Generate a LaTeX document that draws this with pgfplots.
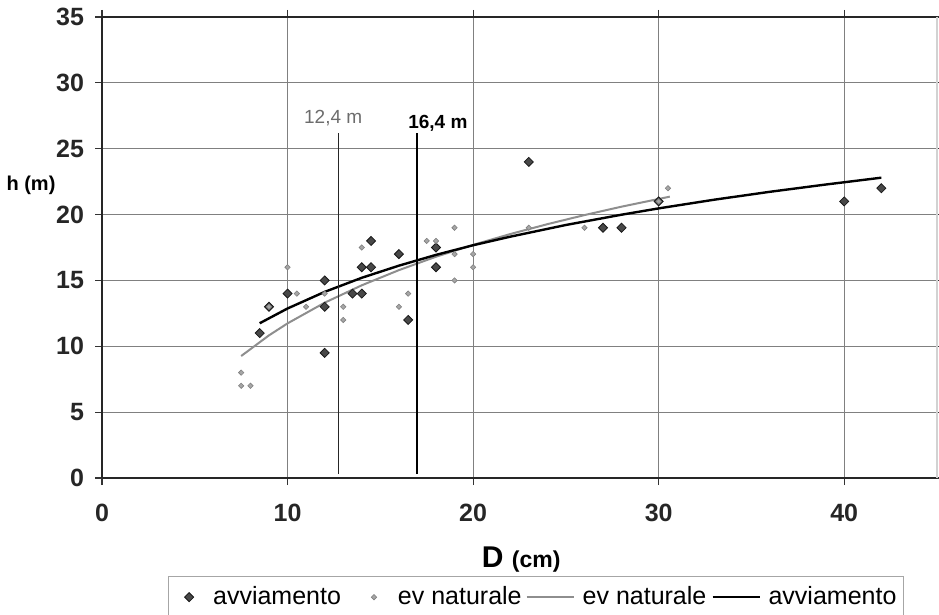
\documentclass[border=0pt]{standalone}
\usepackage{pgfplots}
\pgfplotsset{compat=1.18}
\usepackage{fontspec}
\setmainfont{Liberation Sans}
\definecolor{darkpt}{HTML}{484848}
\definecolor{lightpt}{HTML}{A6A6A6}
\definecolor{gridc}{HTML}{808080}
\definecolor{greyline}{HTML}{8E8E8E}
\pgfplotsset{
    markimg/.style={legend image code/.code={
        \path[draw=none, fill=none] (0pt,0pt) -- (19pt,0pt);
        \draw[##1, draw=none] plot coordinates {(9pt,0pt)};}},
    lineimg/.style={legend image code/.code={
        \path[draw=none, fill=none] (0pt,0pt) -- (26pt,0pt);
        \draw[##1] (0pt,0pt) -- (23.5pt,0pt);}},
}
\begin{document}
\begin{tikzpicture}
\begin{axis}[
    scale only axis,
    width=417.5pt, height=230.5pt,
    xmin=0, xmax=45, ymin=0, ymax=35,
    xtick={0,10,20,30,40},
    ytick={0,5,...,35},
    grid=major,
    grid style={gridc, line width=0.6pt},
    axis line style={draw=none},
    tick align=outside,
    major tick length=3.5pt,
    tick style={black!80, line width=0.6pt},
    ticklabel style={font=\fontsize{12.5}{14}\selectfont\bfseries, text=black!85},
    /pgf/number format/assume math mode=true,
    xticklabel style={yshift=-6pt},
    yticklabel style={xshift=-2pt},
    clip=false,
    legend columns=4,
    legend style={at={(0.5195,0)}, anchor=north, yshift=-49pt,
        draw=gray!70, line width=0.6pt,
        font=\fontsize{12.5}{15}\selectfont,
        inner xsep=1.5pt, inner ysep=3pt,
        /tikz/column 2/.style={column sep=5.5pt},
        /tikz/column 4/.style={column sep=0pt},
        /tikz/column 6/.style={column sep=0.5pt}},
]
\coordinate (sw) at (rel axis cs:0,0);
\coordinate (ne) at (rel axis cs:1,1);

% frame
\draw[black!85, line width=0.9pt] (rel axis cs:0,0) -- (rel axis cs:0,1) -- (rel axis cs:1,1);
\draw[black!85, line width=0.9pt] (rel axis cs:0,0) -- (rel axis cs:1,0);
\draw[gray!35, line width=0.6pt] (rel axis cs:1,0) -- (rel axis cs:1,1);

% avviamento (points)
\addplot[only marks, mark=square*, mark size=1.6pt, markimg,
    mark options={rotate=45, fill=darkpt, draw=black!90, line width=0.4pt}]
coordinates {
    (8.5,11) (9,13) (10,14) (12,15) (12,13) (12,9.5) (13.5,14) (14,14)
    (14,16) (14.5,16) (14.5,18) (16,17) (16.5,12) (18,17.5) (18,16)
    (23,24) (27,19) (28,19) (30,21) (40,21) (42,22)
};
\addlegendentry{avviamento}

% ev naturale (points)
\addplot[only marks, mark=square*, mark size=0.95pt, markimg,
    mark options={rotate=45, fill=lightpt, draw=gray, line width=0.3pt}]
coordinates {
    (7.5,8) (7.5,7) (8,7) (9,13) (10,16) (10.5,14) (11,13) (12,14)
    (13,13) (13,12) (14,17.5) (16,13) (16.5,14) (17.5,18) (18,18)
    (19,19) (19,17) (19,15) (20,17) (20,16) (23,19) (26,19) (30,21) (30.5,22)
};
\addlegendentry{ev naturale}

% ev naturale (trend)
\addplot[greyline, line width=1pt, lineimg] coordinates {
    (7.5,9.26) (9,10.83) (10,11.74) (12,13.31) (14,14.63) (16,15.78)
    (18,16.8) (20,17.7) (22,18.52) (24,19.27) (26,19.96) (28,20.6) (30.6,21.36)
};
\addlegendentry{ev naturale}

% avviamento (trend)
\addplot[black, line width=1.2pt, lineimg] coordinates {
    (8.5,11.75) (10,12.87) (12,14.13) (14,15.2) (16,16.12) (18,16.94)
    (20,17.67) (22,18.32) (25,19.21) (28,19.99) (30,20.47) (33,21.13)
    (36,21.73) (39,22.28) (42,22.8)
};
\addlegendentry{avviamento}

% reference heights
\draw[black!85, line width=0.7pt] (axis cs:12.74,0.3) -- (axis cs:12.74,26.2);
\draw[black, line width=0.8pt] (axis cs:16.97,0.3) -- (axis cs:16.97,26.2);
\node[text=gray!85!black, font=\fontsize{9.5}{11}\selectfont] at (axis cs:12.46,27.3) {12,4 m};
\node[font=\bfseries\fontsize{9.5}{11}\selectfont] at (axis cs:18.1,26.9) {16,4 m};

% axis titles
\node[font=\bfseries\fontsize{10}{12}\selectfont, xshift=-35.5pt] at (axis cs:0,22.25) {h (m)};
\node[anchor=base, yshift=-44.5pt, font=\bfseries] at (rel axis cs:0.502,0)
    {\fontsize{15}{18}\selectfont D \fontsize{11.5}{14}\selectfont(cm)};
\end{axis}
\pgfresetboundingbox
\path[use as bounding box] ([xshift=-51pt,yshift=-68pt]sw) rectangle ([xshift=1pt,yshift=8.5pt]ne);
\end{tikzpicture}
\end{document}
